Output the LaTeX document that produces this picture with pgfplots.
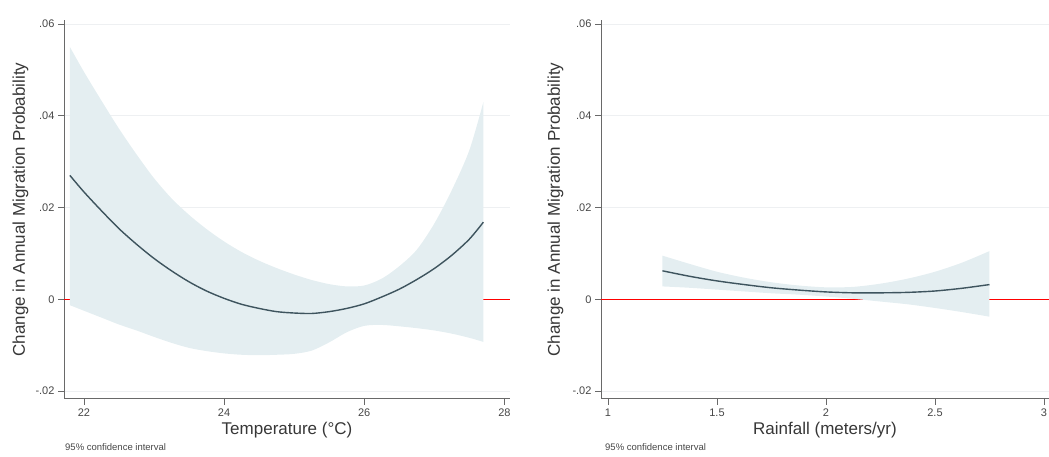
\documentclass[border=0pt]{standalone}
\usepackage{fontspec}
\setmainfont{Liberation Sans}
\usepackage{pgfplots}
\pgfplotsset{compat=1.18}
\usepackage{pgfplotstable}
\usepgfplotslibrary{fillbetween}

\definecolor{cifill}{RGB}{228,238,241}
\definecolor{estline}{RGB}{62,84,94}
\definecolor{gridgray}{RGB}{238,240,242}
\definecolor{axisgray}{RGB}{105,105,105}
\definecolor{ticktext}{RGB}{70,70,70}
\definecolor{labeltext}{RGB}{55,55,55}

\pgfplotstableread{
x      est      lo       hi
21.8   0.0270  -0.0013   0.0550
22.0   0.0234  -0.0025   0.0496
22.25  0.0193  -0.0040   0.0433
22.5   0.0154  -0.0055   0.0372
22.75  0.0120  -0.0068   0.0316
23.0   0.0089  -0.0082   0.0264
23.25  0.0062  -0.0095   0.0220
23.5   0.0038  -0.0106   0.0184
23.75  0.0018  -0.0113   0.0153
24.0   0.0002  -0.0118   0.0126
24.25 -0.0011  -0.0121   0.0103
24.5  -0.0020  -0.0122   0.0084
24.75 -0.0027  -0.0121   0.0068
25.0  -0.0030  -0.0119   0.0054
25.25 -0.0031  -0.0112   0.0042
25.5  -0.0027  -0.0094   0.0033
25.75 -0.0020  -0.0072   0.0028
26.0  -0.0010  -0.0058   0.0030
26.25  0.0005  -0.0056   0.0045
26.5   0.0022  -0.0059   0.0072
26.75  0.0043  -0.0063   0.0108
27.0   0.0067  -0.0068   0.0165
27.25  0.0096  -0.0075   0.0238
27.5   0.0131  -0.0084   0.0325
27.7   0.0168  -0.0093   0.0430
}\temptable

\pgfplotstableread{
x      est      lo       hi
1.25   0.0062   0.0028   0.0095
1.375  0.0050   0.0025   0.0077
1.5    0.0040   0.0021   0.0060
1.625  0.0032   0.0017   0.0047
1.75   0.0025   0.0013   0.0037
1.875  0.0020   0.0010   0.0030
2.0    0.0016   0.0006   0.0026
2.125  0.0014   0.0001   0.0027
2.25   0.0014  -0.0005   0.0034
2.375  0.0015  -0.0011   0.0045
2.5    0.0018  -0.0019   0.0060
2.625  0.0024  -0.0028   0.0080
2.75   0.0032  -0.0038   0.0105
}\raintable

\pgfplotsset{
  statastyle/.style={
    scale only axis,
    axis lines*=left,
    axis line style={draw=axisgray, line width=1pt},
    tick style={draw=axisgray, line width=0.8pt},
    tick align=outside,
    major tick length=6pt,
    ymin=-0.02174, ymax=0.06087,
    ytick={-0.02,0,0.02,0.04,0.06},
    yticklabels={-.02,0,.02,.04,.06},
    scaled y ticks=false,
    scaled x ticks=false,
    ymajorgrids,
    grid style={draw=gridgray, line width=0.8pt},
    tick label style={font=\fontsize{11}{13}\selectfont, text=ticktext},
    label style={font=\fontsize{17}{20}\selectfont, text=labeltext},
    xlabel style={at={(axis description cs:0.5,0)}, anchor=base, yshift=-35.5pt, inner sep=0pt},
    /pgf/number format/assume math mode=true,
  }
}

\begin{document}
\begin{tikzpicture}

\begin{axis}[statastyle,
  at={(64pt,58pt)}, anchor=south west,
  width=446pt, height=379pt,
  xmin=21.716, xmax=28.08,
  xtick={22,24,26,28}, xticklabels={22,24,26,28},
  xlabel={Temperature (°C)},
  ylabel={Change in Annual Migration Probability},
  ylabel style={at={(axis description cs:-0.0879,0.5)}, rotate=0, anchor=base, inner sep=0pt},
]
\addplot[red, line width=1.1pt, on layer=pre main] coordinates {(21.716,0) (28.08,0)};
\addplot[name path=uA, draw=none, smooth] table[x=x, y=hi] {\temptable};
\addplot[name path=lA, draw=none, smooth] table[x=x, y=lo] {\temptable};
\addplot[fill=cifill, draw=none] fill between[of=uA and lA];
\addplot[draw=estline, line width=1.4pt, smooth] table[x=x, y=est] {\temptable};
\end{axis}

\begin{axis}[statastyle,
  at={(601pt,58pt)}, anchor=south west,
  width=448pt, height=379pt,
  xmin=0.968, xmax=3.023,
  xtick={1,1.5,2,2.5,3}, xticklabels={1,1.5,2,2.5,3},
  xlabel={Rainfall (meters/yr)},
  ylabel={Change in Annual Migration Probability},
  ylabel style={at={(axis description cs:-0.0920,0.5)}, rotate=0, anchor=base, inner sep=0pt},
]
\addplot[red, line width=1.1pt, on layer=pre main] coordinates {(0.968,0) (3.023,0)};
\addplot[name path=uB, draw=none, smooth] table[x=x, y=hi] {\raintable};
\addplot[name path=lB, draw=none, smooth] table[x=x, y=lo] {\raintable};
\addplot[fill=cifill, draw=none] fill between[of=uB and lB];
\addplot[draw=estline, line width=1.4pt, smooth] table[x=x, y=est] {\raintable};
\end{axis}

\node[anchor=base west, inner sep=0pt, font=\fontsize{9.5}{11}\selectfont, text=ticktext] at (65pt,6pt) {95\% confidence interval};
\node[anchor=base west, inner sep=0pt, font=\fontsize{9.5}{11}\selectfont, text=ticktext] at (605pt,6pt) {95\% confidence interval};

\pgfresetboundingbox
\path[use as bounding box] (0pt,0pt) rectangle (1049pt,457pt);
\end{tikzpicture}
\end{document}
